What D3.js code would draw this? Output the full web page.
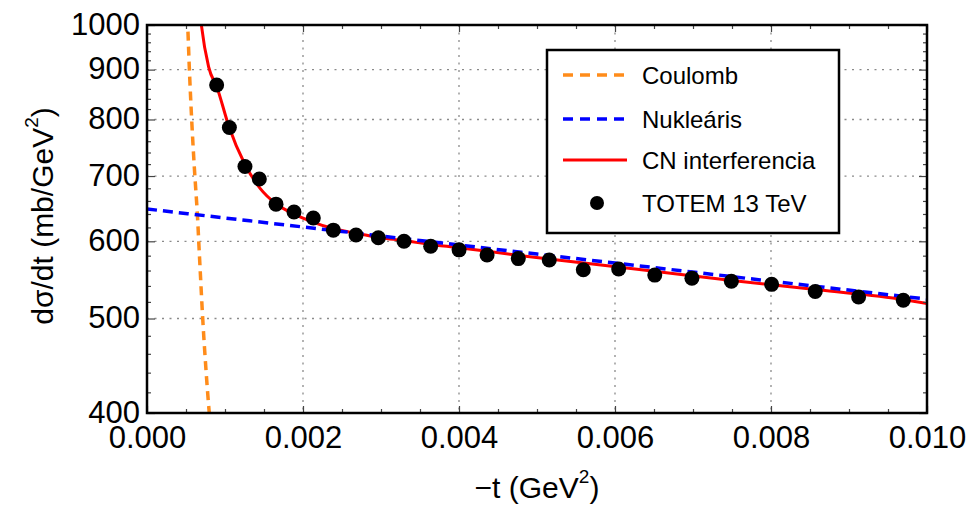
<!DOCTYPE html>
<html>
<head>
<meta charset="utf-8">
<script src="https://cdn.jsdelivr.net/npm/d3@7"></script>
<style>
  html, body { margin: 0; padding: 0; background: #fff; }
  svg { display: block; }
  text { font-family: "Liberation Sans", Arial, sans-serif; fill: #000; }
</style>
</head>
<body>
<svg id="chart" width="974" height="507"></svg>
<script>
// ---------- data ----------
const xMajorTicks = [0, 0.002, 0.004, 0.006, 0.008, 0.010];
const xMinorTicks = [0.0005, 0.001, 0.0015, 0.0025, 0.003, 0.0035, 0.0045, 0.005, 0.0055,
                     0.0065, 0.007, 0.0075, 0.0085, 0.009, 0.0095];
const yMajorTicks = [400, 500, 600, 700, 800, 900, 1000];
const yMinorTicks = [420, 440, 460, 480, 520, 540, 560, 580, 620, 640, 660, 680,
                     720, 740, 760, 780, 820, 840, 860, 880, 920, 940, 960, 980];
const xGrid = [0.002, 0.004, 0.006, 0.008];
const yGrid = [500, 600, 700, 800, 900];

// TOTEM 13 TeV points: -t (GeV^2) and dσ/dt (mb/GeV^2)
const totemT = [0.000893, 0.001056, 0.001256, 0.00144, 0.001654, 0.001885, 0.002132,
                0.002389, 0.00268, 0.002966, 0.003295, 0.003637, 0.004001, 0.00436,
                0.00476, 0.005157, 0.005594, 0.006047, 0.00651, 0.006986, 0.007492,
                0.008008, 0.008567, 0.009123, 0.009696];
const totemV = [868, 785, 716, 695, 655, 643, 634, 616, 609, 605, 600, 593, 588, 581,
                576, 574, 561, 562, 554, 550, 546, 542, 533, 526, 522];

// Coulomb curve
const coulombT = [0.000515, 0.000522, 0.000542, 0.000573, 0.000606, 0.000645, 0.000671, 0.000731, 0.000795, 0.00081];
const coulombV = [1020, 996, 906, 799, 716, 641, 583, 475, 403, 390];

// Nuclear curve
const nuclearT = [0, 0.0025, 0.005, 0.0075, 0.010];
const nuclearV = [647.6, 614.1, 582.2, 552.0, 523.4];

// Coulomb-nuclear interference curve
const cnT = [0.00068, 0.0007, 0.00079, 0.0009, 0.00105, 0.00125, 0.00145, 0.00165, 0.0019,
             0.0021, 0.0024, 0.0027, 0.003, 0.0033, 0.0036, 0.004, 0.0048, 0.0056,
             0.0065, 0.0075, 0.0086, 0.0097, 0.010];
const cnV = [1030, 996, 906, 862, 787, 721, 680, 656, 639, 629, 618, 611, 605, 601, 596,
             591, 580, 570, 559, 547, 535, 523, 518];

const legendLabels = ["Coulomb", "Nukleáris", "CN interferencia", "TOTEM 13 TeV"];

// ---------- layout ----------
const W = 974, H = 507;
const L = 147, R = 927, T = 25, B = 413;

const svg = d3.select("#chart");
const x = d3.scaleLinear().domain([0, 0.010]).range([L, R]);
const y = d3.scaleLog().domain([400, 1000]).range([B, T]);

svg.append("defs").append("clipPath").attr("id", "plotclip")
  .append("rect").attr("x", L).attr("y", T).attr("width", R - L).attr("height", B - T);

// gridlines
const grid = svg.append("g").attr("stroke", "#8a8a8a").attr("stroke-width", 1.3)
  .attr("stroke-dasharray", "2,5.5");
grid.selectAll(".gx").data(xGrid).join("line")
  .attr("x1", d => x(d)).attr("x2", d => x(d)).attr("y1", T).attr("y2", B);
grid.selectAll(".gy").data(yGrid).join("line")
  .attr("y1", d => y(d)).attr("y2", d => y(d)).attr("x1", L).attr("x2", R);

// curves
const plot = svg.append("g").attr("clip-path", "url(#plotclip)");
const line = d3.line().x(d => x(d[0])).y(d => y(d[1])).curve(d3.curveMonotoneX);
const lineY = d3.line().x(d => x(d[0])).y(d => y(d[1])).curve(d3.curveMonotoneY);

plot.append("path").datum(coulombT.map((t, i) => [t, coulombV[i]]))
  .attr("d", lineY).attr("fill", "none").attr("stroke", "#ff8c1a")
  .attr("stroke-width", 3.5).attr("stroke-dasharray", "9,6");

plot.append("path").datum(cnT.map((t, i) => [t, cnV[i]]))
  .attr("d", line).attr("fill", "none").attr("stroke", "#ff0000")
  .attr("stroke-width", 3);

plot.append("path").datum(nuclearT.map((t, i) => [t, nuclearV[i]]))
  .attr("d", line).attr("fill", "none").attr("stroke", "#0000ff")
  .attr("stroke-width", 3.5).attr("stroke-dasharray", "10,6");

plot.selectAll(".pt").data(totemT.map((t, i) => [t, totemV[i]])).join("circle")
  .attr("cx", d => x(d[0])).attr("cy", d => y(d[1])).attr("r", 7.5).attr("fill", "#000");

// axes (ticks pointing inward)
const tickColor = "#444";
function styleAxis(g) {
  g.select(".domain").remove();
  g.selectAll(".tick line").attr("stroke", tickColor).attr("stroke-width", 1.2);
  g.selectAll(".tick text").style("font-size", "31px")
    .style("font-family", '"Liberation Sans", Arial, sans-serif').attr("fill", "#000");
}
svg.append("g").attr("transform", `translate(0,${B})`)
  .call(d3.axisBottom(x).tickValues(xMajorTicks).tickSizeInner(-7).tickSizeOuter(0)
        .tickPadding(13).tickFormat(d3.format(".3f")))
  .call(styleAxis);
svg.append("g").attr("transform", `translate(0,${B})`)
  .call(d3.axisBottom(x).tickValues(xMinorTicks).tickSize(-4).tickFormat(""))
  .call(styleAxis);
svg.append("g").attr("transform", `translate(0,${T})`)
  .call(d3.axisTop(x).tickValues(xMajorTicks).tickSize(-7).tickFormat(""))
  .call(styleAxis);
svg.append("g").attr("transform", `translate(0,${T})`)
  .call(d3.axisTop(x).tickValues(xMinorTicks).tickSize(-4).tickFormat(""))
  .call(styleAxis);
svg.append("g").attr("transform", `translate(${L},0)`)
  .call(d3.axisLeft(y).tickValues(yMajorTicks).tickSize(-8).tickPadding(7)
        .tickFormat(d3.format("d")))
  .call(styleAxis)
  .call(g => g.selectAll(".tick text").attr("dy", "0.3em"));
svg.append("g").attr("transform", `translate(${L},0)`)
  .call(d3.axisLeft(y).tickValues(yMinorTicks).tickSize(-4).tickFormat(""))
  .call(styleAxis);
svg.append("g").attr("transform", `translate(${R},0)`)
  .call(d3.axisRight(y).tickValues(yMajorTicks).tickSize(-8).tickFormat(""))
  .call(styleAxis);
svg.append("g").attr("transform", `translate(${R},0)`)
  .call(d3.axisRight(y).tickValues(yMinorTicks).tickSize(-4).tickFormat(""))
  .call(styleAxis);

// frame
svg.append("rect").attr("x", L).attr("y", T).attr("width", R - L).attr("height", B - T)
  .attr("fill", "none").attr("stroke", "#000").attr("stroke-width", 2.5);

// axis titles
const xt = svg.append("text").attr("x", (L + R) / 2).attr("y", 498)
  .attr("text-anchor", "middle").style("font-size", "30px");
xt.append("tspan").text("\u2212t (GeV");
xt.append("tspan").text("2").style("font-size", "19px").attr("dy", -15);
xt.append("tspan").text(")").attr("dy", 15);

const yt = svg.append("text").attr("transform", `translate(53,${(T + B) / 2 - 3}) rotate(-90)`)
  .attr("text-anchor", "middle").style("font-size", "30px");
yt.append("tspan").text("d\u03c3/dt (mb/GeV");
yt.append("tspan").text("2").style("font-size", "19px").attr("dy", -15);
yt.append("tspan").text(")").attr("dy", 15);

// legend
const lg = svg.append("g");
lg.append("rect").attr("x", 547).attr("y", 50).attr("width", 292).attr("height", 183)
  .attr("fill", "#fff").attr("stroke", "#000").attr("stroke-width", 2.5);
const rowsY = [75, 119, 160, 203];
const lineX1 = 563, lineX2 = 627, textX = 642;
lg.append("line").attr("x1", lineX1).attr("x2", lineX2).attr("y1", rowsY[0]).attr("y2", rowsY[0])
  .attr("stroke", "#ff8c1a").attr("stroke-width", 3.5).attr("stroke-dasharray", "10,7");
lg.append("line").attr("x1", lineX1).attr("x2", lineX2).attr("y1", rowsY[1]).attr("y2", rowsY[1])
  .attr("stroke", "#0000ff").attr("stroke-width", 3.5).attr("stroke-dasharray", "10,7");
lg.append("line").attr("x1", lineX1).attr("x2", lineX2).attr("y1", rowsY[2]).attr("y2", rowsY[2])
  .attr("stroke", "#ff0000").attr("stroke-width", 3);
lg.append("circle").attr("cx", (lineX1 + lineX2) / 2 + 2).attr("cy", rowsY[3]).attr("r", 7)
  .attr("fill", "#000");
lg.selectAll(".lt").data(legendLabels).join("text")
  .attr("x", textX).attr("y", (d, i) => rowsY[i] + 9)
  .style("font-size", "24px").text(d => d);
</script>
</body>
</html>
